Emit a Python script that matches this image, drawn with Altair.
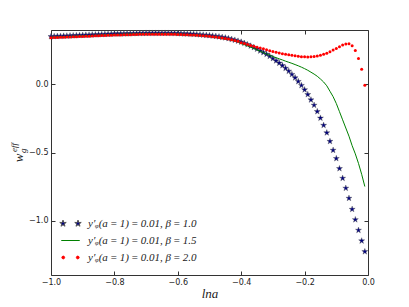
import altair as alt
import pandas as pd

lna = [
    -1.00, -0.99, -0.98, -0.97, -0.96, -0.95, -0.94, -0.93, -0.92, -0.91,
    -0.90, -0.89, -0.88, -0.87, -0.86, -0.85, -0.84, -0.83, -0.82, -0.81,
    -0.80, -0.79, -0.78, -0.77, -0.76, -0.75, -0.74, -0.73, -0.72, -0.71,
    -0.70, -0.69, -0.68, -0.67, -0.66, -0.65, -0.64, -0.63, -0.62, -0.61,
    -0.60, -0.59, -0.58, -0.57, -0.56, -0.55, -0.54, -0.53, -0.52, -0.51,
    -0.50, -0.49, -0.48, -0.47, -0.46, -0.45, -0.44, -0.43, -0.42, -0.41,
    -0.40, -0.39, -0.38, -0.37, -0.36, -0.35, -0.34, -0.33, -0.32, -0.31,
    -0.30, -0.29, -0.28, -0.27, -0.26, -0.25, -0.24, -0.23, -0.22, -0.21,
    -0.20, -0.19, -0.18, -0.17, -0.16, -0.15, -0.14, -0.13, -0.12, -0.11,
    -0.10, -0.09, -0.08, -0.07, -0.06, -0.05, -0.04, -0.03, -0.02, -0.01,
]

# beta = 1.0 (navy stars)
w_beta10 = [
    0.352, 0.353, 0.354, 0.355, 0.356, 0.357, 0.358, 0.359, 0.360, 0.361,
    0.362, 0.363, 0.364, 0.365, 0.366, 0.367, 0.368, 0.369, 0.370, 0.371,
    0.372, 0.372, 0.373, 0.373, 0.374, 0.374, 0.375, 0.375, 0.376, 0.376,
    0.377, 0.377, 0.377, 0.377, 0.377, 0.377, 0.377, 0.377, 0.376, 0.376,
    0.375, 0.374, 0.373, 0.372, 0.371, 0.370, 0.368, 0.366, 0.364, 0.362,
    0.360, 0.357, 0.354, 0.351, 0.347, 0.343, 0.338, 0.332, 0.326, 0.319,
    0.312, 0.303, 0.293, 0.283, 0.272, 0.260, 0.247, 0.235, 0.222, 0.207,
    0.191, 0.174, 0.157, 0.139, 0.119, 0.098, 0.074, 0.049, 0.022, -0.007,
    -0.039, -0.074, -0.113, -0.152, -0.199, -0.247, -0.300, -0.355, -0.418, -0.483,
    -0.544, -0.618, -0.689, -0.762, -0.836, -0.917, -0.993, -1.071, -1.149, -1.228,
]

# beta = 1.5 (green line)
w_beta15 = [
    0.347, 0.348, 0.349, 0.350, 0.351, 0.352, 0.353, 0.354, 0.355, 0.356,
    0.357, 0.358, 0.359, 0.360, 0.361, 0.362, 0.363, 0.364, 0.365, 0.366,
    0.367, 0.368, 0.368, 0.369, 0.370, 0.370, 0.371, 0.371, 0.372, 0.372,
    0.372, 0.372, 0.372, 0.372, 0.372, 0.372, 0.372, 0.371, 0.371, 0.370,
    0.370, 0.369, 0.368, 0.367, 0.366, 0.364, 0.363, 0.361, 0.359, 0.357,
    0.354, 0.351, 0.348, 0.344, 0.340, 0.336, 0.331, 0.326, 0.320, 0.314,
    0.300, 0.292, 0.283, 0.274, 0.264, 0.254, 0.244, 0.234, 0.224, 0.214,
    0.205, 0.197, 0.188, 0.180, 0.171, 0.163, 0.155, 0.146, 0.137, 0.127,
    0.116, 0.104, 0.090, 0.076, 0.060, 0.040, 0.018, -0.010, -0.050, -0.090,
    -0.140, -0.200, -0.260, -0.320, -0.380, -0.450, -0.510, -0.580, -0.660, -0.750,
]

# beta = 2.0 (red dots)
w_beta20 = [
    0.343, 0.344, 0.345, 0.346, 0.347, 0.348, 0.349, 0.350, 0.351, 0.352,
    0.353, 0.354, 0.355, 0.356, 0.357, 0.358, 0.359, 0.360, 0.361, 0.362,
    0.363, 0.364, 0.364, 0.365, 0.366, 0.366, 0.367, 0.367, 0.368, 0.368,
    0.369, 0.369, 0.369, 0.369, 0.369, 0.369, 0.369, 0.369, 0.368, 0.368,
    0.367, 0.367, 0.366, 0.365, 0.364, 0.363, 0.362, 0.360, 0.358, 0.356,
    0.354, 0.351, 0.348, 0.345, 0.341, 0.337, 0.333, 0.328, 0.323, 0.317,
    0.307, 0.300, 0.293, 0.286, 0.280, 0.274, 0.268, 0.262, 0.254, 0.247,
    0.242, 0.236, 0.231, 0.226, 0.222, 0.218, 0.214, 0.210, 0.207, 0.204,
    0.203, 0.202, 0.203, 0.205, 0.209, 0.214, 0.221, 0.230, 0.241, 0.253,
    0.265, 0.277, 0.289, 0.297, 0.299, 0.285, 0.250, 0.190, 0.112, -0.005,
]

labels = [
    "y\u2032\u1d69(a\u2009=\u20091)\u2009=\u20090.01, \u03b2\u2009=\u20091.0",
    "y\u2032\u1d69(a\u2009=\u20091)\u2009=\u20090.01,  \u03b2\u2009=\u20091.5",
    "y\u2032\u1d69(a\u2009=\u20091)\u2009=\u20090.01, \u03b2\u2009=\u20092.0",
]
x_ticks = [-1.0, -0.8, -0.6, -0.4, -0.2, 0.0]
y_ticks = [-1.0, -0.5, 0.0]

NAVY = "#000080"
GREEN = "#008000"
RED = "#ff0000"


def star(cx, r):
    pts = [(0, -1), (0.2245, -0.309), (0.951, -0.309), (0.363, 0.118), (0.588, 0.809),
           (0, 0.382), (-0.588, 0.809), (-0.363, 0.118), (-0.951, -0.309), (-0.2245, -0.309)]
    s = "M" + "L".join(f"{cx + r * px:.4f},{r * py:.4f}" for px, py in pts) + "Z"
    return s


def dot(cx, r):
    return (f"M{cx - r:.3f},0A{r},{r} 0 1,0 {cx + r:.3f},0"
            f"A{r},{r} 0 1,0 {cx - r:.3f},0Z")


STAR = star(0, 1)
leg_shapes = [star(-1.5, 0.68) + star(1.5, 0.68), "M-1.85,0L1.85,0",
              dot(-1.45, 0.28) + dot(1.45, 0.28)]

df_b = pd.DataFrame({"lna": lna, "w": w_beta10})
df_g = pd.DataFrame({"lna": lna, "w": w_beta15})
df_r = pd.DataFrame({"lna": lna, "w": w_beta20})

xs = alt.Scale(domain=[-1.0, 0.0], nice=False, zero=False)
ys = alt.Scale(domain=[-1.4, 0.4], nice=False, zero=False)

TICK = alt.expr("-4")

ax_x = alt.Axis(values=x_ticks, format=".1f", grid=False, domain=False, tickSize=TICK,
                tickColor="#333", labelPadding=7, labelFont="DejaVu Sans", labelFontSize=8,
                labelColor="#222", title="lna", titleFont="Liberation Serif",
                titleFontStyle="italic", titleFontWeight="normal", titleFontSize=13,
                titleColor="#222", titlePadding=1, labelFlush=False)
ax_y = alt.Axis(values=y_ticks, format=".1f", grid=False, domain=False, tickSize=TICK,
                tickColor="#333", labelPadding=7, labelFont="DejaVu Sans", labelFontSize=8,
                labelColor="#222", title=None)
ax_x2 = alt.Axis(values=x_ticks, orient="top", grid=False, domain=False, labels=False,
                 tickSize=TICK, tickColor="#333", title=None)
ax_y2 = alt.Axis(values=y_ticks, orient="right", grid=False, domain=False, labels=False,
                 tickSize=TICK, tickColor="#333", title=None)

blue = alt.Chart(df_b).mark_point(shape=STAR, filled=True, fill=NAVY, stroke="#555",
                                  strokeWidth=0.4, size=40, opacity=1).encode(
    x=alt.X("lna:Q", scale=xs, axis=ax_x),
    y=alt.Y("w:Q", scale=ys, axis=ax_y),
)
green = alt.Chart(df_g).mark_line(color=GREEN, strokeWidth=1).encode(
    x=alt.X("lna:Q", scale=xs, axis=ax_x2),
    y=alt.Y("w:Q", scale=ys, axis=ax_y2),
)
red = alt.Chart(df_r).mark_point(shape="circle", filled=True, color=RED, size=9,
                                 opacity=1).encode(
    x=alt.X("lna:Q", scale=xs, axis=None),
    y=alt.Y("w:Q", scale=ys, axis=None),
)

leg = alt.Legend(title=None, orient="none", legendX=14, legendY=188, padding=0,
                 symbolSize=100, symbolOpacity=1, symbolStrokeWidth=1, rowPadding=5,
                 labelOffset=12, labelFont="Liberation Serif", labelFontStyle="italic",
                 labelFontSize=11, labelColor="#222", labelLimit=300)
legend_layer = alt.Chart(pd.DataFrame({"label": labels})).mark_point(
    filled=True, opacity=0).encode(
    fill=alt.Fill("label:N", scale=alt.Scale(domain=labels, range=[NAVY, GREEN, RED]),
                  legend=leg),
    stroke=alt.Stroke("label:N", scale=alt.Scale(domain=labels, range=["#555", GREEN, RED]),
                      legend=leg),
    shape=alt.Shape("label:N", scale=alt.Scale(domain=labels, range=leg_shapes), legend=leg),
)

tfont = dict(font="Liberation Serif", fontStyle="italic", color="#222", angle=270,
             baseline="middle")
t_w = alt.Chart().mark_text(text="w", fontSize=13, align="center", **tfont).encode(
    x=alt.value(-32), y=alt.value(128))
t_g = alt.Chart().mark_text(text="g", fontSize=9, align="left", **tfont).encode(
    x=alt.value(-28), y=alt.value(123))
t_eff = alt.Chart().mark_text(text="eff", fontSize=9, align="left", **tfont).encode(
    x=alt.value(-37), y=alt.value(122))

chart = alt.layer(blue, green, red, legend_layer, t_w, t_g, t_eff).resolve_axis(
    x="independent", y="independent"
).properties(
    width=317, height=245,
    autosize=alt.AutoSizeParams(type="none"),
    padding={"left": 43, "top": 22, "right": 33, "bottom": 30},
    background="white",
).configure_view(stroke="#333", strokeWidth=1)

chart.save("out.html", embed_options={"renderer": "svg", "actions": False})
